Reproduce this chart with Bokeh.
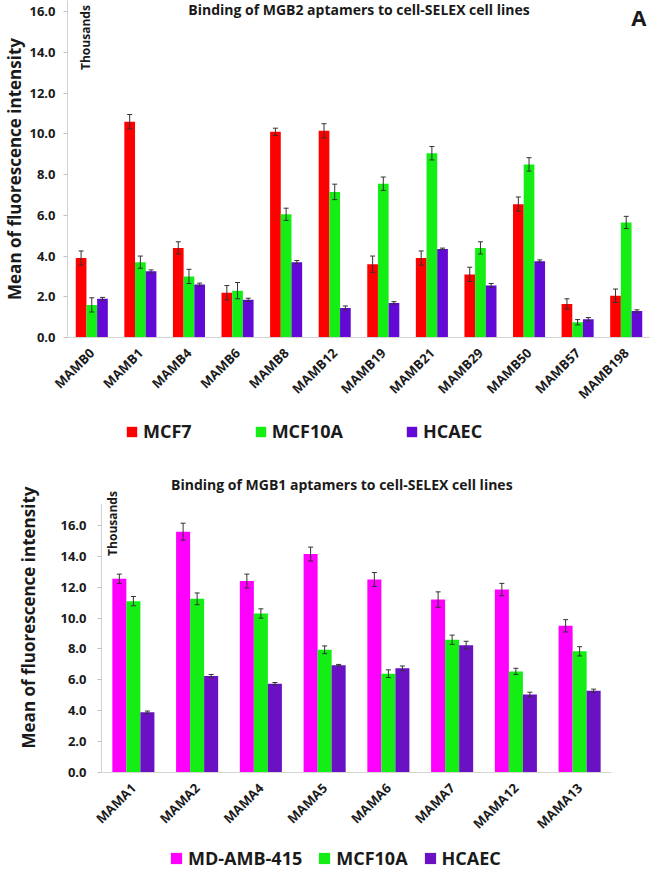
import numpy as np
from bokeh.plotting import figure
from bokeh.models import (ColumnDataSource, Range1d, FixedTicker, PrintfTickFormatter,
                          Whisker, TeeHead, Label, Legend, LegendItem)
from bokeh.transform import dodge
from bokeh.embed import file_html
from bokeh.resources import INLINE

# ---------------- Panel A data (values in thousands) ----------------
mgb2_cats = ["MAMB0", "MAMB1", "MAMB4", "MAMB6", "MAMB8", "MAMB12",
             "MAMB19", "MAMB21", "MAMB29", "MAMB50", "MAMB57", "MAMB198"]
mcf7 = [3.9, 10.6, 4.4, 2.2, 10.1, 10.15, 3.6, 3.9, 3.1, 6.55, 1.65, 2.05]
mcf7_err = [0.35, 0.35, 0.3, 0.35, 0.18, 0.35, 0.4, 0.35, 0.35, 0.35, 0.25, 0.33]
mcf10a_a = [1.6, 3.7, 3.0, 2.3, 6.05, 7.15, 7.55, 9.05, 4.4, 8.5, 0.75, 5.65]
mcf10a_a_err = [0.35, 0.3, 0.35, 0.4, 0.3, 0.38, 0.33, 0.33, 0.3, 0.33, 0.13, 0.3]
hcaec_a = [1.9, 3.25, 2.6, 1.85, 3.7, 1.45, 1.7, 4.35, 2.55, 3.75, 0.9, 1.3]
hcaec_a_err = [0.07, 0.07, 0.07, 0.08, 0.08, 0.1, 0.06, 0.04, 0.1, 0.06, 0.08, 0.06]

# ---------------- Panel B data (values in thousands) ----------------
mgb1_cats = ["MAMA1", "MAMA2", "MAMA4", "MAMA5", "MAMA6", "MAMA7", "MAMA12", "MAMA13"]
mda = [12.55, 15.6, 12.4, 14.15, 12.5, 11.2, 11.85, 9.5]
mda_err = [0.3, 0.55, 0.45, 0.45, 0.45, 0.5, 0.4, 0.4]
mcf10a_b = [11.1, 11.25, 10.3, 7.95, 6.4, 8.6, 6.55, 7.85]
mcf10a_b_err = [0.3, 0.38, 0.3, 0.25, 0.25, 0.3, 0.2, 0.3]
hcaec_b = [3.9, 6.25, 5.75, 6.95, 6.75, 8.25, 5.05, 5.3]
hcaec_b_err = [0.08, 0.1, 0.08, 0.05, 0.15, 0.25, 0.15, 0.1]

y_ticks = [0, 2, 4, 6, 8, 10, 12, 14, 16]

FONT = "Open Sans"
TXT = "#1a1a1a"
AXIS_GRAY = "#d4d4d4"
RED, GREEN, PURPLE_A, PURPLE_B, MAGENTA = "#ff0000", "#14ee14", "#6209d6", "#6a11c4", "#ff00ff"


def style_axes(p, cats, ylab_standoff, ybound, label_standoff):
    p.xgrid.grid_line_color = None
    p.ygrid.grid_line_color = None
    p.outline_line_color = None
    p.yaxis.ticker = FixedTicker(ticks=y_ticks)
    p.yaxis.formatter = PrintfTickFormatter(format="%.1f")
    p.yaxis.bounds = (0, ybound)
    p.yaxis.axis_line_color = AXIS_GRAY
    p.yaxis.major_tick_line_color = "#c0c0c0"
    p.yaxis.major_tick_out = 4
    p.yaxis.major_tick_in = 0
    p.yaxis.minor_tick_line_color = None
    p.yaxis.major_label_standoff = ylab_standoff
    p.yaxis.major_label_text_font = FONT
    p.yaxis.major_label_text_font_style = "bold"
    p.yaxis.major_label_text_font_size = "13px"
    p.yaxis.major_label_text_color = TXT
    p.yaxis.axis_label = "Mean of fluorescence intensity"
    p.yaxis.axis_label_text_font = FONT
    p.yaxis.axis_label_text_font_style = "bold"
    p.yaxis.axis_label_text_font_size = "17px"
    p.yaxis.axis_label_text_color = TXT
    p.yaxis.axis_label_standoff = label_standoff

    p.xaxis.ticker = FixedTicker(ticks=list(np.arange(len(cats)) + 0.5))
    p.xaxis.major_label_overrides = {float(i + 0.5): c for i, c in enumerate(cats)}
    p.xaxis.major_label_orientation = np.pi / 4
    p.xaxis.axis_line_color = AXIS_GRAY
    p.xaxis.major_tick_line_color = None
    p.xaxis.minor_tick_line_color = None
    p.xaxis.major_label_standoff = 7
    p.xaxis.major_label_text_font = FONT
    p.xaxis.major_label_text_font_style = "bold"
    p.xaxis.major_label_text_font_size = "13px"
    p.xaxis.major_label_text_color = TXT


def add_series(p, cats, series, width):
    src_data = {"xc": np.arange(len(cats)) + 0.5}
    for k, (vals, errs, _, _) in enumerate(series):
        src_data[f"v{k}"] = vals
        src_data[f"u{k}"] = [v + e for v, e in zip(vals, errs)]
        src_data[f"l{k}"] = [v - e for v, e in zip(vals, errs)]
    src = ColumnDataSource(src_data)
    offs = [-width, 0.0, width]
    for k, (vals, errs, color, name) in enumerate(series):
        p.vbar(x=dodge("xc", offs[k], range=p.x_range), top=f"v{k}", width=width,
               source=src, fill_color=color, line_color=None)
        w = Whisker(source=src, base=dodge("xc", offs[k], range=p.x_range),
                    upper=f"u{k}", lower=f"l{k}", line_color="#333333", line_width=1,
                    upper_head=TeeHead(size=5, line_color="#333333", line_width=1),
                    lower_head=TeeHead(size=5, line_color="#333333", line_width=1),
                    level="overlay")
        p.add_layout(w)


def add_label(p, x, y, text, size, angle=0.0, align="center"):
    p.add_layout(Label(x=x, y=y, text=text, text_font=FONT, text_font_style="bold",
                       text_font_size=size, text_color=TXT, angle=angle,
                       text_align=align, text_baseline="middle"))


def legend_fig(series, height, loc, gw, spacing):
    """A strip holding only the colour key of a panel."""
    lf = figure(width=650, height=height, x_range=Range1d(0, 1), y_range=Range1d(0, 1),
                output_backend="svg", toolbar_location=None, x_axis_type=None,
                y_axis_type=None, min_border=0, outline_line_color=None)
    lf.grid.visible = False
    items = []
    for color, name in series:
        # zero-height key swatch renderer (draws nothing in the strip itself)
        r = lf.vbar(x=[0.5], top=[0.0], bottom=[0.0], width=0.01,
                    fill_color=color, line_color=None)
        items.append(LegendItem(label=name, renderers=[r], index=0))
    lf.add_layout(Legend(items=items, location=loc, orientation="horizontal",
                         glyph_width=gw, glyph_height=gw, label_standoff=5,
                         spacing=spacing, padding=0, margin=0, border_line_color=None,
                         background_fill_alpha=0, label_text_font=FONT,
                         label_text_font_style="bold", label_text_font_size="18px",
                         label_text_color=TXT, label_height=20))
    return lf


# ---------------- Panel A ----------------
p1 = figure(width=650, height=418, x_range=Range1d(0, len(mgb2_cats)),
            y_range=Range1d(0, 16.55), output_backend="svg", toolbar_location=None,
            min_border_left=62, min_border_right=0, min_border_top=0,
            min_border_bottom=81)
style_axes(p1, mgb2_cats, 8, 16.55, 0)
add_series(p1, mgb2_cats, [
    (mcf7, mcf7_err, RED, "MCF7"),
    (mcf10a_a, mcf10a_a_err, GREEN, "MCF10A"),
    (hcaec_a, hcaec_a_err, PURPLE_A, "HCAEC"),
], 0.22)
add_label(p1, 6.0, 16.11, "Binding of MGB2 aptamers to cell-SELEX cell lines", "14px")
add_label(p1, 11.76, 15.72, "A", "22px")
add_label(p1, 0.37, 14.73, "Thousands", "12px", angle=np.pi / 2)
leg_a = legend_fig([(RED, "MCF7"), (GREEN, "MCF10A"), (PURPLE_A, "HCAEC")],
                   25, (125, 0), 13, 62)

# ---------------- Panel B ----------------
p2 = figure(width=650, height=402, x_range=Range1d(0, len(mgb1_cats)),
            y_range=Range1d(0, 20.08), output_backend="svg", toolbar_location=None,
            min_border_left=101, min_border_right=39, min_border_top=19,
            min_border_bottom=73)
style_axes(p2, mgb1_cats, 11, 17.45, 17)
add_series(p2, mgb1_cats, [
    (mda, mda_err, MAGENTA, "MD-AMB-415"),
    (mcf10a_b, mcf10a_b_err, GREEN, "MCF10A"),
    (hcaec_b, hcaec_b_err, PURPLE_B, "HCAEC"),
], 0.22)
add_label(p2, 3.77, 18.65, "Binding of MGB1 aptamers to cell-SELEX cell lines", "14px")
add_label(p2, 8.15, 18.65, "B", "22px")
add_label(p2, 0.175, 16.13, "Thousands", "12px", angle=np.pi / 2)
leg_b = legend_fig([(MAGENTA, "MD-AMB-415"), (GREEN, "MCF10A"), (PURPLE_B, "HCAEC")],
                   25, (169, 0), 14, 15)

open("out.html", "w").write(file_html([p1, leg_a, p2, leg_b], INLINE))
